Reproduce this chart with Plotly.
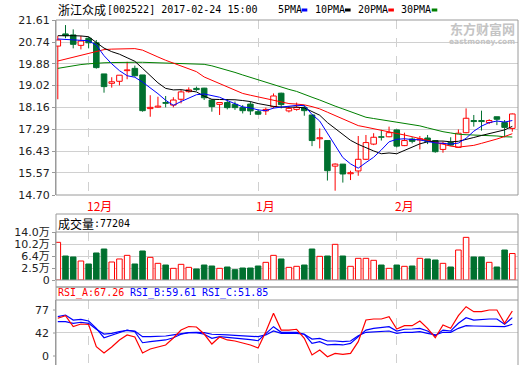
import plotly.graph_objects as go

# ---------------- data ----------------
dates = ["2016-11-25", "2016-11-28", "2016-11-29", "2016-11-30",
         "2016-12-01", "2016-12-02", "2016-12-05", "2016-12-06", "2016-12-07", "2016-12-08", "2016-12-09",
         "2016-12-12", "2016-12-13", "2016-12-14", "2016-12-15", "2016-12-16", "2016-12-19", "2016-12-20",
         "2016-12-21", "2016-12-22", "2016-12-23", "2016-12-26", "2016-12-27", "2016-12-28", "2016-12-29",
         "2016-12-30",
         "2017-01-03", "2017-01-04", "2017-01-05", "2017-01-06", "2017-01-09", "2017-01-10", "2017-01-11",
         "2017-01-12", "2017-01-13", "2017-01-16", "2017-01-17", "2017-01-18", "2017-01-19", "2017-01-20",
         "2017-01-23", "2017-01-24", "2017-01-25", "2017-01-26",
         "2017-02-03", "2017-02-06", "2017-02-07", "2017-02-08", "2017-02-09", "2017-02-10", "2017-02-13",
         "2017-02-14", "2017-02-15", "2017-02-16", "2017-02-17", "2017-02-20", "2017-02-21", "2017-02-22",
         "2017-02-23", "2017-02-24"]

opens = [20.58, 21.06, 21.02, 20.61, 20.89, 20.71, 19.48, 19.11, 19.19, 19.61,
         19.70, 19.44, 18.11, 18.17, 18.35, 18.25, 18.48, 18.78, 18.91, 18.92,
         18.45, 18.28, 18.35, 18.28, 18.15, 18.29, 17.99, 18.02, 18.19, 18.72,
         18.02, 18.08, 18.16, 17.86, 16.92, 16.85, 15.84, 15.92, 15.54, 15.65,
         16.11, 16.71, 17.00, 17.00, 17.27, 16.65, 16.91, 16.87, 16.95, 16.85,
         16.50, 16.77, 16.58, 17.16, 17.64, 17.64, 17.56, 17.79, 17.56, 17.33]
highs = [20.98, 21.41, 21.24, 20.98, 20.95, 20.82, 19.48, 19.35, 19.43, 19.96,
         19.81, 19.44, 18.64, 18.58, 18.61, 18.56, 18.85, 18.95, 18.98, 18.93,
         18.48, 18.35, 18.48, 18.39, 18.25, 18.39, 18.08, 18.15, 18.71, 18.74,
         18.21, 18.35, 18.25, 17.86, 17.33, 16.85, 15.95, 15.92, 15.66, 17.03,
         17.07, 17.14, 17.27, 17.40, 17.29, 17.16, 16.98, 17.03, 17.07, 16.85,
         16.81, 16.98, 17.29, 18.12, 17.86, 18.03, 17.69, 17.79, 17.66, 17.92]
lows = [18.48, 20.89, 20.49, 20.45, 20.49, 19.69, 18.74, 18.94, 19.03, 19.27,
        19.37, 17.99, 17.79, 18.15, 18.16, 18.16, 18.32, 18.74, 18.81, 18.45,
        17.99, 17.86, 18.08, 18.06, 17.92, 17.86, 17.86, 17.86, 18.12, 18.12,
        17.96, 18.03, 17.83, 16.63, 16.54, 15.27, 14.87, 15.19, 15.29, 15.46,
        16.08, 16.67, 16.85, 16.98, 16.58, 16.63, 16.74, 16.50, 16.71, 16.37,
        16.37, 16.63, 16.58, 17.14, 17.40, 17.24, 17.50, 17.46, 16.98, 17.20]
closes = [20.82, 20.99, 20.65, 20.78, 20.71, 19.73, 18.98, 19.17, 19.43, 19.64,
          19.41, 18.03, 18.16, 18.21, 18.32, 18.45, 18.77, 18.85, 18.86, 18.54,
          18.19, 18.35, 18.15, 18.15, 18.03, 18.02, 17.89, 18.08, 18.61, 18.27,
          18.12, 18.16, 18.03, 16.85, 16.96, 15.66, 15.92, 15.53, 15.58, 16.11,
          16.77, 16.98, 16.98, 17.16, 16.63, 16.85, 16.82, 16.92, 16.81, 16.41,
          16.74, 16.67, 17.14, 17.73, 17.60, 17.60, 17.64, 17.69, 17.37, 17.90]
volumes = [109900, 70000, 67100, 55400, 46700, 78800, 90400, 52500, 61300, 71900,
           46700, 84600, 66100, 48600, 43700, 34000, 45700, 36900, 32100, 43700,
           40800, 34000, 37900, 30100, 35000, 35000, 40800, 51500, 71900, 61300,
           36900, 39900, 43700, 90400, 69000, 70000, 104000, 70000, 39900, 63200,
           63200, 57400, 43700, 34000, 43700, 39900, 40800, 63200, 61300, 58300,
           48600, 37900, 87500, 124400, 67100, 67100, 51500, 37900, 87500, 77204]

ma5 = [20.86, 20.85, 20.83, 20.81, 20.79, 20.62, 20.20, 19.88, 19.61, 19.41,
       19.35, 19.16, 18.94, 18.70, 18.44, 18.24, 18.39, 18.53, 18.66, 18.69,
       18.64, 18.56, 18.43, 18.29, 18.18, 18.14, 18.06, 18.03, 18.13, 18.17,
       18.19, 18.24, 18.23, 17.88, 17.62, 17.13, 16.68, 16.18, 15.93, 15.76,
       15.98, 16.19, 16.48, 16.80, 16.90, 16.92, 16.89, 16.88, 16.81, 16.76,
       16.74, 16.71, 16.75, 16.94, 17.22, 17.42, 17.56, 17.62, 17.58, 17.64]
ma10 = [20.99, 21.00, 20.99, 20.98, 20.95, 20.72, 20.50, 20.36, 20.26, 20.12,
        19.98, 19.70, 19.42, 19.13, 18.91, 18.85, 18.86, 18.83, 18.77, 18.60,
        18.48, 18.47, 18.47, 18.46, 18.43, 18.39, 18.31, 18.24, 18.20, 18.17,
        18.17, 18.17, 18.14, 18.00, 17.85, 17.56, 17.33, 17.10, 16.86, 16.70,
        16.56, 16.44, 16.33, 16.36, 16.33, 16.45, 16.57, 16.72, 16.80, 16.83,
        16.83, 16.80, 16.82, 16.88, 16.97, 17.05, 17.13, 17.20, 17.27, 17.41]
ma20 = [19.99, 20.07, 20.15, 20.23, 20.31, 20.39, 20.44, 20.46, 20.46, 20.48,
        20.48, 20.42, 20.30, 20.15, 20.02, 19.91, 19.79, 19.68, 19.57, 19.36,
        19.23, 19.10, 18.99, 18.86, 18.71, 18.64, 18.57, 18.50, 18.46, 18.38,
        18.31, 18.29, 18.26, 18.19, 18.10, 17.97, 17.84, 17.71, 17.57, 17.44,
        17.38, 17.31, 17.26, 17.20, 17.13, 17.07, 17.01, 16.94, 16.86, 16.78,
        16.70, 16.63, 16.59, 16.62, 16.66, 16.74, 16.81, 16.91, 17.01, 17.12]
ma30 = [19.70, 19.76, 19.81, 19.85, 19.88, 19.91, 19.92, 19.93, 19.94, 19.94,
        19.94, 19.94, 19.93, 19.92, 19.91, 19.90, 19.90, 19.89, 19.89, 19.86,
        19.80, 19.72, 19.63, 19.54, 19.44, 19.34, 19.24, 19.15, 19.06, 18.96,
        18.87, 18.79, 18.69, 18.56, 18.45, 18.32, 18.21, 18.10, 17.98, 17.86,
        17.77, 17.72, 17.67, 17.64, 17.60, 17.55, 17.50, 17.43, 17.35, 17.27,
        17.20, 17.15, 17.10, 17.08, 17.07, 17.06, 17.05, 17.03, 17.00, 16.99]

rsi_a = [58.8, 61.8, 49.3, 52.2, 51.6, 25.9, 18.6, 25.5, 33.7, 39.5,
         37.1, 18.6, 23.2, 25.5, 27.9, 36.0, 45.2, 49.3, 48.7, 40.6,
         29.0, 37.1, 33.7, 32.5, 30.2, 27.9, 24.4, 43.3, 64.6, 45.2,
         45.2, 46.1, 35.6, 16.3, 22.1, 14.3, 18.2, 17.1, 18.2, 31.7,
         56.8, 58.0, 58.0, 60.7, 46.4, 50.2, 50.2, 55.7, 47.2, 36.3,
         51.0, 47.2, 61.8, 72.2, 66.5, 66.5, 68.4, 68.4, 53.0, 67.26]
rsi_b = [60.7, 62.6, 56.8, 57.6, 55.7, 47.2, 36.3, 39.5, 42.6, 45.2,
         43.3, 30.5, 31.7, 32.5, 33.7, 36.3, 40.3, 42.1, 42.1, 40.3,
         35.6, 37.5, 36.8, 35.6, 34.8, 34.0, 32.8, 41.4, 49.1, 42.6,
         42.6, 42.6, 40.3, 29.8, 31.7, 27.9, 28.7, 27.9, 29.8, 37.5,
         45.2, 47.2, 47.9, 49.1, 44.1, 46.1, 46.4, 47.2, 44.1, 38.6,
         45.2, 44.1, 53.0, 59.5, 56.8, 57.6, 58.0, 58.0, 51.8, 59.61]
rsi_c = [54.9, 54.9, 53.0, 54.2, 53.0, 46.1, 40.6, 41.4, 43.3, 44.9,
         44.1, 37.5, 37.5, 37.5, 38.3, 39.5, 41.0, 42.1, 42.6, 42.1,
         40.3, 40.3, 39.5, 39.1, 38.6, 38.3, 37.5, 39.5, 44.1, 41.4,
         41.4, 41.4, 40.3, 34.8, 35.6, 32.5, 32.5, 31.7, 32.5, 38.6,
         42.6, 43.3, 43.3, 44.1, 41.4, 42.6, 42.6, 43.3, 41.4, 39.5,
         42.6, 42.6, 47.2, 50.2, 49.9, 49.9, 49.9, 49.9, 49.1, 51.85]

price_ticks = [14.70, 15.57, 16.43, 17.29, 18.16, 19.02, 19.88, 20.74, 21.61]
vol_tick_vals = [0, 35000, 70000, 105000, 140000]
vol_tick_text = ["0", "2.5万", "6.4万", "10.2万", "14.0万"]
rsi_tick_text = ["77", "42", "0"]
month_names = ["12月", "1月", "2月"]
stock_name = "浙江众成"
stock_info = "[002522] 2017-02-24 15:00"
ma_names = ["5PMA", "10PMA", "20PMA", "30PMA"]

# ---------------- style ----------------
W, H = 520, 365
def fx(p):
    return p / W
def fy(p):
    return 1 - p / H

RED = "#ff0000"
GREEN = "#00702f"
BLUE = "#0000ff"
BLACK = "#000000"
MAGREEN = "#008000"
GRID = "#d0d0d0"
FRAME = "#9a9a9a"
CJK = "Noto Sans CJK SC"
MONO = "DejaVu Sans Mono"
SANS = "DejaVu Sans, Noto Sans CJK SC"

n = len(closes)
xs = list(range(n))
up_idx = [i for i in xs if closes[i] >= opens[i]]
dn_idx = [i for i in xs if closes[i] < opens[i]]
XR = [-0.234, 59.739]
BW = 0.72

fig = go.Figure()

def wicks(idx):
    wx, wy = [], []
    for i in idx:
        top = max(opens[i], closes[i])
        bot = min(opens[i], closes[i])
        if highs[i] > top:
            wx += [i, i, None]
            wy += [highs[i], top, None]
        if lows[i] < bot:
            wx += [i, i, None]
            wy += [bot, lows[i], None]
    return wx, wy

for idx, col in ((up_idx, RED), (dn_idx, GREEN)):
    wx, wy = wicks(idx)
    fig.add_trace(go.Scatter(x=wx, y=wy, mode="lines", line=dict(color=col, width=1),
                             xaxis="x", yaxis="y", hoverinfo="skip", connectgaps=False))

for idx, fill, col in ((up_idx, "white", RED), (dn_idx, GREEN, GREEN)):
    fig.add_trace(go.Bar(
        x=idx,
        base=[min(opens[i], closes[i]) for i in idx],
        y=[max(abs(closes[i] - opens[i]), 0.02) for i in idx],
        width=BW, marker=dict(color=fill, line=dict(color=col, width=1)),
        xaxis="x", yaxis="y", hovertext=[dates[i] for i in idx]))

for vals, col in ((ma30, MAGREEN), (ma20, RED), (ma10, BLACK), (ma5, BLUE)):
    fig.add_trace(go.Scatter(x=xs, y=vals, mode="lines", line=dict(color=col, width=1),
                             xaxis="x", yaxis="y"))

for idx, fill, col in ((up_idx, "white", RED), (dn_idx, GREEN, GREEN)):
    fig.add_trace(go.Bar(x=idx, y=[volumes[i] for i in idx], width=BW,
                         marker=dict(color=fill, line=dict(color=col, width=1)),
                         xaxis="x2", yaxis="y2"))

for vals, col in ((rsi_c, BLUE), (rsi_b, BLUE), (rsi_a, RED)):
    fig.add_trace(go.Scatter(x=xs, y=vals, mode="lines", line=dict(color=col, width=1.2),
                             xaxis="x3", yaxis="y3"))

month_starts = [i for i in range(1, n) if dates[i][5:7] != dates[i - 1][5:7]]

xcommon = dict(domain=[fx(56), fx(518)], range=XR, tickvals=month_starts, showticklabels=False,
               showgrid=True, griddash="dash", gridcolor=GRID, gridwidth=1, zeroline=False,
               showline=False, ticks="", fixedrange=True, automargin=False)
tickfont = dict(family=SANS, size=11, color="#222222")

fig.update_layout(
    width=W, height=H, margin=dict(l=0, r=0, t=0, b=0, autoexpand=False),
    paper_bgcolor="white", plot_bgcolor="white", showlegend=False,
    barmode="overlay",
    xaxis=dict(xcommon, anchor="y"),
    xaxis2=dict(xcommon, anchor="y2"),
    xaxis3=dict(xcommon, anchor="y3"),
    yaxis=dict(domain=[fy(195), fy(20)], range=[price_ticks[0], price_ticks[-1]],
               tickvals=price_ticks, ticktext=[f"{v:.2f}" for v in price_ticks],
               showgrid=True, gridcolor=GRID, zeroline=False, ticks="outside", ticklen=3,
               tickcolor=FRAME, showline=True, linecolor=FRAME, tickfont=tickfont, anchor="x",
               automargin=False),
    yaxis2=dict(domain=[fy(280), fy(232)], range=[0, vol_tick_vals[-1]],
                tickvals=vol_tick_vals, ticktext=vol_tick_text,
                showgrid=True, gridcolor=GRID, zeroline=False, ticks="outside", ticklen=3,
                tickcolor=FRAME, showline=True, linecolor=FRAME, tickfont=tickfont, anchor="x2",
                automargin=False),
    yaxis3=dict(domain=[0, fy(300)], range=[4.69, 80.0], tickvals=[42],
                showticklabels=False, showgrid=True, gridcolor=GRID, zeroline=False,
                showline=True, linecolor=FRAME, anchor="x3", automargin=False),
)

shapes = []
def rect(x0, y0, x1, y1):
    return dict(type="rect", xref="paper", yref="paper", x0=fx(x0), x1=fx(x1), y0=fy(y0), y1=fy(y1),
                line=dict(color=FRAME, width=1))
def hline(x0, x1, y, color=FRAME):
    return dict(type="line", xref="paper", yref="paper", x0=fx(x0), x1=fx(x1), y0=fy(y), y1=fy(y),
                line=dict(color=color, width=1))

shapes.append(rect(56, 20, 518, 195))
shapes.append(rect(56, 214, 518, 287))
shapes.append(hline(56, 518, 232))
shapes.append(hline(56, 518, 280))
shapes.append(rect(56, 287, 518, 366))
shapes.append(hline(56, 518, 300))
for yy in (310, 333, 356):
    shapes.append(hline(53, 56, yy))

legend_x = [276, 312.7, 356, 399.3]
chip_x = [301.7, 345, 388.3, 431.7]
for cx, col in zip(chip_x, (BLUE, BLACK, RED, MAGREEN)):
    shapes.append(dict(type="rect", xref="paper", yref="paper", x0=fx(cx), x1=fx(cx + 5.6),
                       y0=fy(11.5), y1=fy(8.5), fillcolor=col, line=dict(width=0)))
fig.update_layout(shapes=shapes)

ann = []
def txt(x, y, s, size, color, family, xanchor="left", xref="paper"):
    return dict(x=fx(x) if xref == "paper" else x, y=fy(y), xref=xref, yref="paper", text=s,
                showarrow=False, font=dict(size=size, color=color, family=family),
                xanchor=xanchor, yanchor="middle")

ann.append(txt(56, 9, stock_name, 12, BLACK, CJK))
ann.append(txt(105, 9, stock_info, 10, BLACK, MONO))
for lx, name in zip(legend_x, ma_names):
    ann.append(txt(lx, 9.5, name, 10, BLACK, MONO))

ann.append(txt(482, 28, "<b>东方财富网</b>", 13, "#c4c4c4", CJK, xanchor="center"))
ann.append(txt(482, 42, "<b>eastmoney.com</b>", 7.5, "#c4c4c4", "DejaVu Sans", xanchor="center"))

for i, name in zip(month_starts, month_names):
    ann.append(txt(i - 0.5, 205, name, 12, RED, CJK, xref="x"))

ann.append(txt(56, 223, "成交量", 12, BLACK, CJK))
ann.append(txt(92, 223, f":{volumes[-1]}", 10, BLACK, MONO))

ann.append(txt(56, 292.5, f"RSI_A:{rsi_a[-1]:.2f}", 10, RED, MONO))
ann.append(txt(127.5, 292.5, f"RSI_B:{rsi_b[-1]:.2f}", 10, BLUE, MONO))
ann.append(txt(199.5, 292.5, f"RSI_C:{rsi_c[-1]:.2f}", 10, BLUE, MONO))
for yy, s in zip((310, 333, 356), rsi_tick_text):
    ann.append(txt(51, yy, s, 11, "#222222", SANS, xanchor="right"))

fig.update_layout(annotations=ann)
fig.write_html("out.html", config={"displayModeBar": False},
               post_script="document.body.style.margin='0';")
